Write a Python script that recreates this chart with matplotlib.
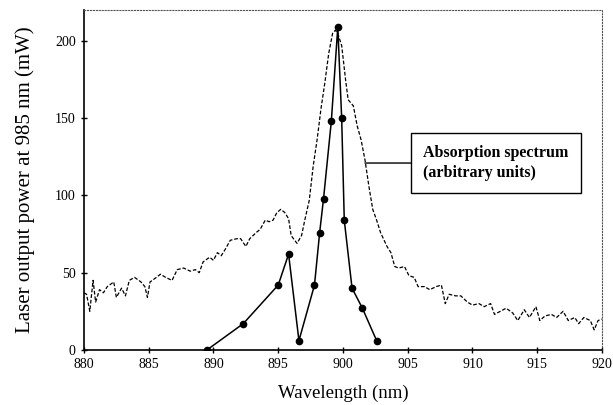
import matplotlib.pyplot as plt

plt.rcParams['font.family'] = ['Liberation Serif', 'DejaVu Serif']

# laser output power (solid line with markers)
wl_laser = [889.5, 892.3, 895.0, 895.8, 896.6, 897.8, 898.2, 898.5, 899.1,
            899.6, 899.9, 900.1, 900.7, 901.5, 902.6]
p_laser = [0, 17, 42, 62, 6, 42, 76, 98, 148, 209, 150, 84, 40, 27, 6]

# absorption spectrum (dashed, arbitrary units)
wl_abs = [880.0, 880.2, 880.45, 880.7, 880.9, 881.2, 881.5, 881.8, 882.3, 882.5,
          882.9, 883.2, 883.5, 883.9, 884.4, 884.7, 884.9, 885.1, 885.6, 885.9,
          886.3, 886.8, 887.2, 887.7, 888.2, 888.6, 888.9, 889.2, 889.7, 890.0,
          890.3, 890.6, 890.9, 891.3, 891.8, 892.1, 892.5, 892.8, 893.3, 893.6,
          894.0, 894.3, 894.6, 894.9, 895.2, 895.5, 895.8, 896.0, 896.45, 896.8,
          897.05, 897.4, 897.7, 898.0, 898.3, 898.6, 898.9, 899.2, 899.4, 899.6,
          899.9, 900.2, 900.4, 900.8, 901.1, 901.4, 901.7, 902.0, 902.3, 902.6,
          902.9, 903.4, 903.7, 904.0, 904.3, 904.75, 905.1, 905.5, 905.8, 906.3,
          906.7, 907.2, 907.6, 907.9, 908.2, 908.7, 909.1, 909.6, 910.0, 910.5,
          910.9, 911.4, 911.7, 912.15, 912.6, 913.1, 913.5, 914.0, 914.4, 914.9,
          915.2, 915.6, 916.1, 916.5, 917.0, 917.4, 917.9, 918.2, 918.6, 919.1,
          919.4, 919.7, 920.0]
a_abs = [37, 36, 25, 45, 31, 39, 37, 41, 44, 34,
         40, 35, 45, 47, 44, 41, 34, 44, 47, 49,
         47, 45, 52, 53, 51, 52, 50, 57, 60, 58,
         63, 61, 65, 71, 72, 72, 67, 72, 76, 78,
         84, 83, 84, 89, 91, 89, 85, 74, 69, 74,
         84, 97, 119, 136, 156, 173, 192, 205, 207, 205,
         197, 175, 162, 158, 145, 136, 123, 106, 91, 84,
         76, 67, 63, 54, 53, 54, 48, 47, 41, 41,
         39, 41, 42, 30, 36, 35, 35, 31, 29, 30,
         28, 30, 23, 25, 27, 24, 19, 26, 21, 28,
         19, 22, 23, 21, 25, 19, 21, 17, 21, 19,
         13, 19, 20]

fig = plt.figure(figsize=(6.13, 4.05), dpi=100)
ax = fig.add_axes([0.137, 0.136, 0.845, 0.839])

ax.plot(wl_abs, a_abs, color='black', lw=0.9, linestyle=(0, (3, 1.5)))
ax.plot(wl_laser, p_laser, color='black', lw=1.1, marker='o', markersize=4.5)

ax.set_xlim(880, 920)
ax.set_ylim(0, 220)
ax.set_xticks(range(880, 921, 5))
ax.set_yticks(range(0, 201, 50))
ax.tick_params(direction='inout', length=5, width=1, labelsize=10)

for s in ['left', 'bottom']:
    ax.spines[s].set_linewidth(1.2)
for s in ['top', 'right']:
    ax.spines[s].set_linewidth(0.8)
    ax.spines[s].set_linestyle(':')
    ax.spines[s].set_color('#555555')

ax.set_xlabel('Wavelength (nm)', fontsize=13.5, labelpad=10)
ax.set_ylabel('Laser output power at 985 nm (mW)', fontsize=15, labelpad=14)

# label box with leader line to the spectrum
ax.annotate('Absorption spectrum\n(arbitrary units)', xy=(901.7, 121), xytext=(906.2, 121),
            fontsize=11.5, fontweight='bold', va='center', ha='left', linespacing=1.3,
            bbox=dict(boxstyle='square,pad=0.75', fc='white', ec='black', lw=1),
            arrowprops=dict(arrowstyle='-', color='black', lw=1, shrinkA=0, shrinkB=0))

fig.savefig('out.png', dpi=100)
